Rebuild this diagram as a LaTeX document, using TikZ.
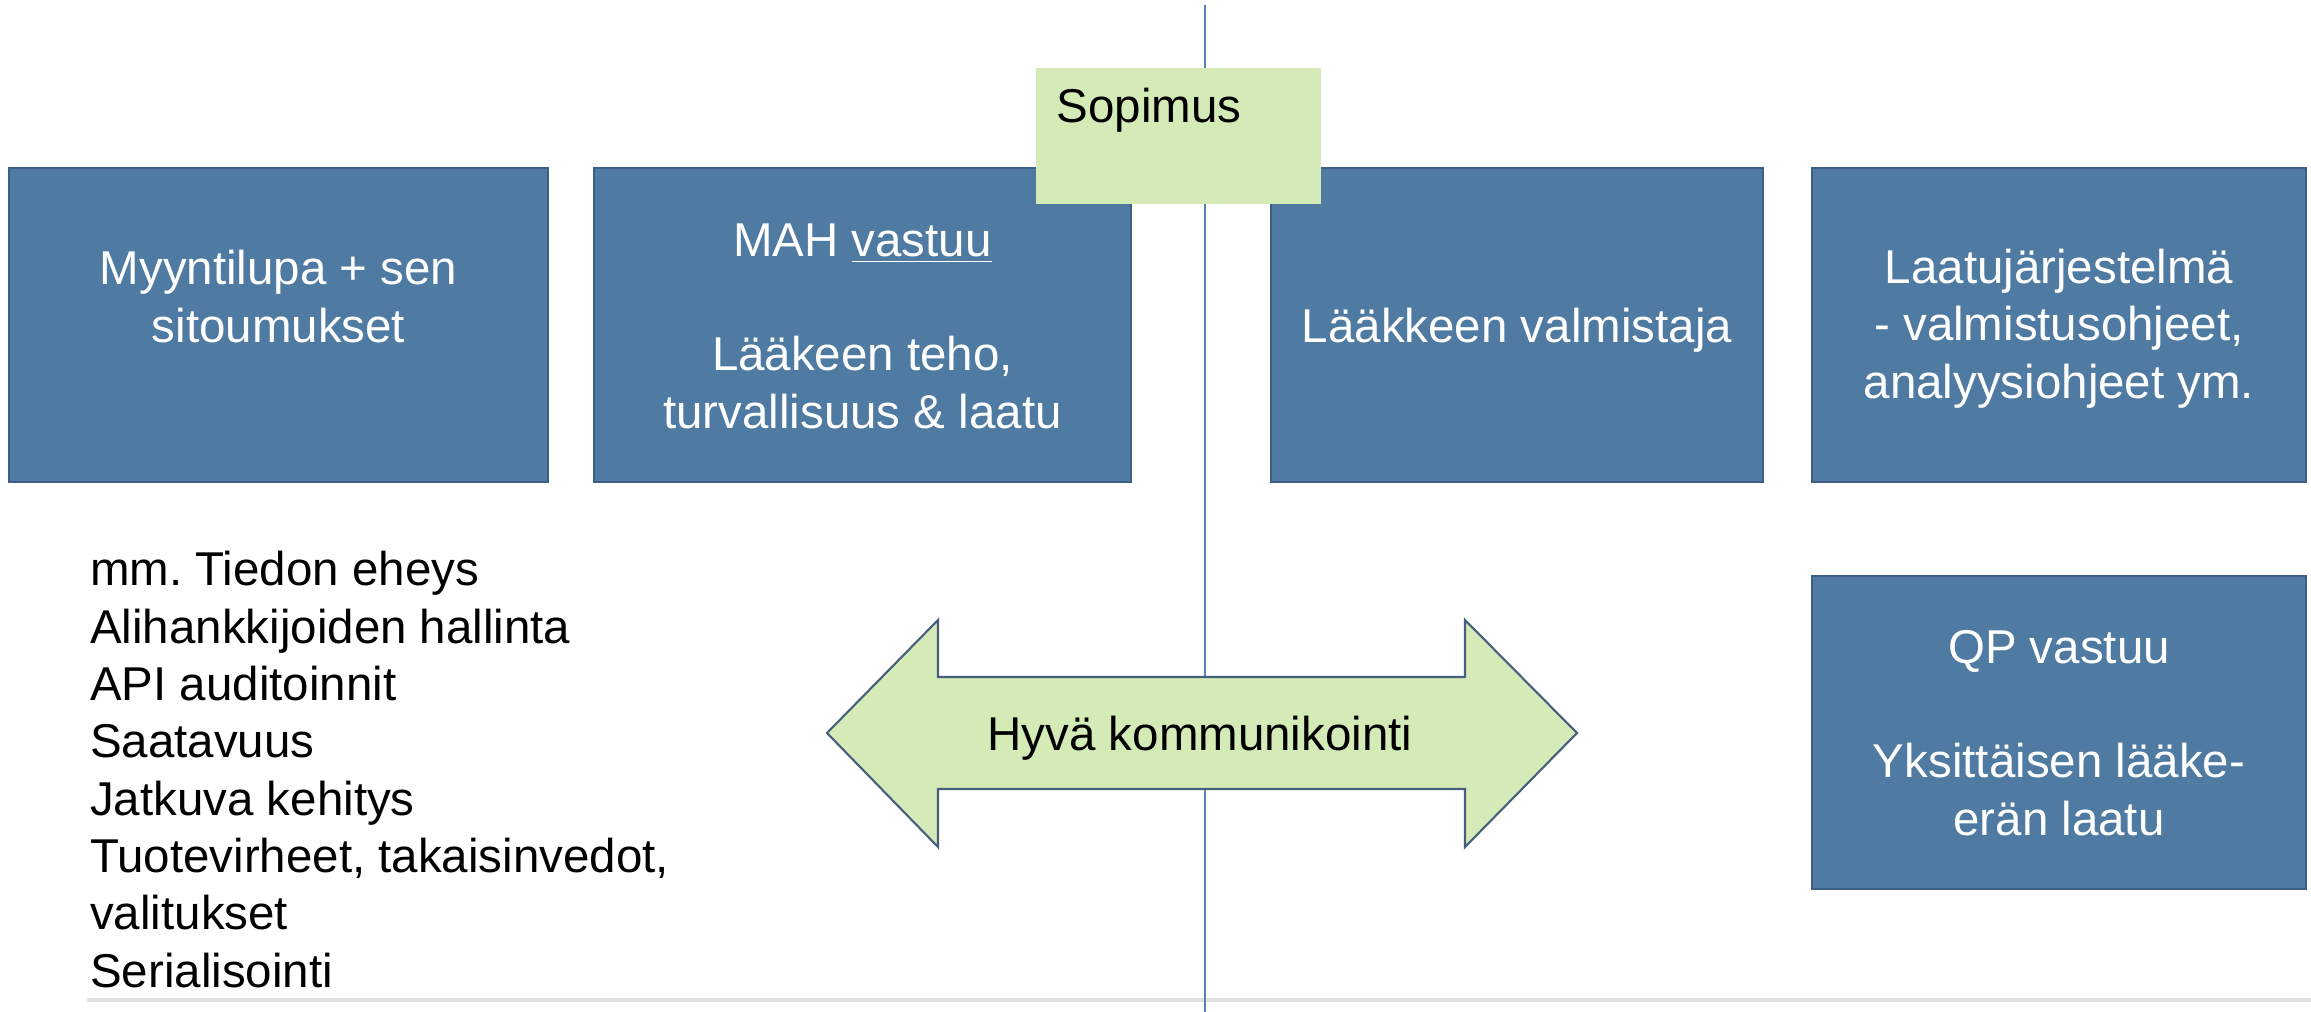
\documentclass[tikz,border=0pt]{standalone}
\usepackage{fontspec}
\setmainfont{Liberation Sans}
\definecolor{boxfill}{RGB}{79,122,161}
\definecolor{boxline}{RGB}{62,95,133}
\definecolor{greenfill}{RGB}{212,235,184}
\definecolor{arrowline}{RGB}{70,95,125}
\definecolor{vline}{RGB}{90,130,185}
\definecolor{shadowgray}{RGB}{225,225,225}
\tikzset{
  bluebox/.style={draw=boxline, line width=0.6pt, fill=boxfill, rectangle, inner sep=0pt},
  greenbox/.style={fill=greenfill, rectangle, inner sep=0pt},
  boxtext/.style={text=white, align=center, inner sep=0pt, anchor=base,
    font=\fontsize{13.5pt}{16.3pt}\selectfont},
  plaintext/.style={text=black, inner sep=0pt,
    font=\fontsize{13.5pt}{16.3pt}\selectfont},
}
\begin{document}
\begin{tikzpicture}[x=0.01cm, y=-0.01cm]
\useasboundingbox (0,0) rectangle (2311,1012);
% faint bottom line
\coordinate (gl) at (87,1000);
\coordinate (gr) at (2311,1000);
\draw[shadowgray, line width=0.9pt] (gl) -- (gr);
% vertical divider
\coordinate (vt) at (1205,5);
\coordinate (vb) at (1205,1012);
\draw[vline, line width=0.45pt] (vt) -- (vb);
% boxes
\node[bluebox, minimum width=5.39cm, minimum height=3.14cm] (b1) at (278.5,325) {};
\node[bluebox, minimum width=5.37cm, minimum height=3.14cm] (b2) at (862.5,325) {};
\node[bluebox, minimum width=4.92cm, minimum height=3.14cm] (b3) at (1517,325) {};
\node[bluebox, minimum width=4.94cm, minimum height=3.14cm] (b4) at (2059,325) {};
\node[bluebox, minimum width=4.94cm, minimum height=3.13cm] (b5) at (2059,732.5) {};
\node[greenbox, minimum width=2.85cm, minimum height=1.36cm] (sop) at (1178.5,136) {};
% box texts (base = baseline of last line)
\node[boxtext] (t1) at (278.5,342) {Myyntilupa + sen\\sitoumukset};
\node[boxtext] (t2) at (862.5,428) {MAH \underline{vastuu}\\[16.3pt]Lääkeen teho,\\turvallisuus \& laatu};
\node[boxtext] (t3) at (1517,342) {Lääkkeen valmistaja};
\node[boxtext] (t4) at (2059,398) {Laatujärjestelmä\\- valmistusohjeet,\\analyysiohjeet ym.};
\node[boxtext] (t5) at (2059,835) {QP vastuu\\[16.3pt]Yksittäisen lääke-\\erän laatu};
\node[plaintext, anchor=base west] (ts) at (1056,123) {Sopimus};
% list
\node[plaintext, anchor=base west, align=left] (list) at (89.5,987)
  {mm.\ Tiedon eheys\\Alihankkijoiden hallinta\\API auditoinnit\\Saatavuus\\Jatkuva kehitys\\Tuotevirheet, takaisinvedot,\\valitukset\\Serialisointi};
% double arrow
\draw[fill=greenfill, draw=arrowline, line width=0.6pt, line join=miter]
  (827,733) -- (938,620) -- (938,677) -- (1465,677) -- (1465,620) -- (1577,733)
  -- (1465,847) -- (1465,789) -- (938,789) -- (938,847) -- cycle;
\node[plaintext, anchor=base] (ta) at (1200,750) {Hyvä kommunikointi};
\end{tikzpicture}
\end{document}
